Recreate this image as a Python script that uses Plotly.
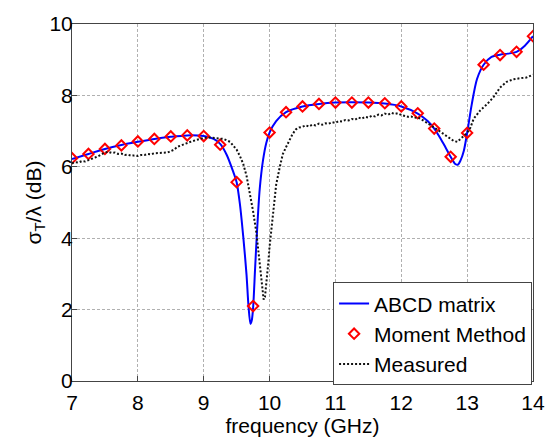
import plotly.graph_objects as go

# ABCD matrix (blue solid curve)
abcd_f = [7.0, 7.25, 7.5, 7.75, 8.0, 8.25, 8.5, 8.75, 9.0, 9.15, 9.25, 9.35, 9.45, 9.5,
          9.55, 9.6, 9.65, 9.68, 9.71, 9.73, 9.75, 9.78, 9.81, 9.85, 9.9, 9.95, 10.0,
          10.1, 10.25, 10.5, 10.75, 11.0, 11.25, 11.5, 11.75, 12.0, 12.25, 12.4, 12.5,
          12.6, 12.67, 12.75, 12.82, 12.86, 12.9, 12.95, 13.0, 13.07, 13.15, 13.25,
          13.37, 13.5, 13.62, 13.75, 13.88, 14.0]
abcd_v = [6.22, 6.36, 6.50, 6.61, 6.70, 6.78, 6.84, 6.88, 6.86, 6.78, 6.64, 6.33, 5.85, 5.57,
          4.95, 4.05, 2.98, 2.10, 1.60, 1.70, 2.05, 3.14, 4.21, 5.37, 6.18, 6.67, 6.96,
          7.28, 7.53, 7.69, 7.76, 7.80, 7.81, 7.80, 7.77, 7.69, 7.49, 7.28, 7.07,
          6.78, 6.55, 6.28, 6.08, 6.06, 6.18, 6.45, 6.95, 7.75, 8.46, 8.86,
          9.08, 9.14, 9.17, 9.22, 9.40, 9.66]

# Moment Method (red diamonds)
mm_f = [7.0, 7.25, 7.5, 7.75, 8.0, 8.25, 8.5, 8.75, 9.0, 9.25, 9.5, 9.75, 10.0, 10.25,
        10.5, 10.75, 11.0, 11.25, 11.5, 11.75, 12.0, 12.25, 12.5, 12.75, 13.0, 13.25,
        13.5, 13.75, 14.0]
mm_v = [6.24, 6.36, 6.50, 6.60, 6.71, 6.78, 6.85, 6.88, 6.86, 6.62, 5.57, 2.10, 6.96, 7.53,
        7.69, 7.76, 7.80, 7.80, 7.80, 7.78, 7.69, 7.50, 7.07, 6.28, 6.95, 8.86,
        9.13, 9.22, 9.66]

# Measured (black dotted curve)
meas_f = [7.0, 7.05, 7.1, 7.15, 7.2, 7.25, 7.3, 7.35, 7.4, 7.45, 7.5, 7.55, 7.6, 7.65, 7.7,
          7.75, 7.8, 7.85, 7.9, 7.95, 8.0, 8.05, 8.1, 8.15, 8.2, 8.25, 8.3, 8.35, 8.4,
          8.45, 8.5, 8.55, 8.6, 8.7, 8.8, 8.9, 9.0, 9.1, 9.2, 9.3, 9.4, 9.5, 9.55, 9.6,
          9.65, 9.7, 9.75, 9.8, 9.85, 9.88, 9.91, 9.93, 9.95, 9.98, 10.0, 10.03, 10.06,
          10.1, 10.15, 10.2, 10.25, 10.3, 10.35, 10.4, 10.45, 10.5, 10.55, 10.6, 10.65,
          10.7, 10.75, 10.8, 10.85, 10.9, 10.95, 11.0, 11.05, 11.1, 11.15, 11.2, 11.25,
          11.3, 11.35, 11.4, 11.45, 11.5, 11.55, 11.6, 11.65, 11.7, 11.75, 11.8, 11.85,
          11.9, 11.95, 12.0, 12.05, 12.1, 12.15, 12.2, 12.25, 12.3, 12.4, 12.5, 12.6,
          12.7, 12.8, 12.85, 12.9, 13.0, 13.05, 13.1, 13.2, 13.3, 13.4, 13.5, 13.6,
          13.7, 13.8, 13.9, 14.0]
meas_v = [6.10, 6.13, 6.12, 6.16, 6.15, 6.18, 6.21, 6.26, 6.30, 6.35, 6.40, 6.42, 6.39, 6.40, 6.36,
          6.37, 6.33, 6.34, 6.31, 6.32, 6.30, 6.33, 6.33, 6.36, 6.35, 6.38, 6.39, 6.38, 6.41,
          6.40, 6.44, 6.48, 6.56, 6.64, 6.70, 6.76, 6.81, 6.82, 6.80, 6.78, 6.70, 6.48, 6.30, 6.08,
          5.75, 5.30, 4.75, 4.15, 3.25, 2.65, 2.28, 2.35, 2.69, 3.30, 3.76, 4.35, 4.93,
          5.50, 5.95, 6.35, 6.55, 6.75, 6.92, 7.05, 7.10, 7.12, 7.16, 7.13, 7.18,
          7.16, 7.21, 7.18, 7.22, 7.21, 7.25, 7.23, 7.28, 7.27, 7.31, 7.30, 7.34,
          7.32, 7.38, 7.35, 7.40, 7.38, 7.43, 7.41, 7.46, 7.44, 7.49, 7.46, 7.51,
          7.48, 7.50, 7.45, 7.43, 7.40, 7.41, 7.37, 7.39, 7.34, 7.22, 7.10, 6.97,
          6.86, 6.72, 6.70, 6.78, 6.95, 7.10, 7.35, 7.58, 7.75, 7.95, 8.22, 8.38,
          8.45, 8.48, 8.50, 8.58]

FONT = "Liberation Sans, Arial, sans-serif"
AX = "#444444"

fig = go.Figure()
fig.add_trace(go.Scatter(x=abcd_f, y=abcd_v, mode="lines", name="ABCD matrix",
                         line=dict(color="#0000ff", width=2, shape="spline", smoothing=0.8)))
fig.add_trace(go.Scatter(x=mm_f, y=mm_v, mode="markers", name="Moment Method",
                         marker=dict(symbol="diamond-open", size=8, color="#ff0000",
                                     line=dict(color="#ff0000", width=2))))
fig.add_trace(go.Scatter(x=meas_f, y=meas_v, mode="lines", name="Measured",
                         line=dict(color="#111111", width=2, dash="2px,2px")))

axis_common = dict(showline=True, mirror=True, linecolor=AX, linewidth=1,
                   showgrid=True, gridcolor="#b0b0b0", gridwidth=1, griddash="3px,2px",
                   ticks="inside", ticklen=5, tickcolor=AX, zeroline=False,
                   tickfont=dict(family=FONT, size=21, color="#000000"))

fig.update_layout(
    width=557, height=441,
    margin=dict(l=72, r=15, t=14, b=54),
    paper_bgcolor="white", plot_bgcolor="white",
    font=dict(family=FONT, size=21, color="#000000"),
    xaxis=dict(range=[7, 14], dtick=1, tick0=7, ticklabelstandoff=3,
               title=dict(text="frequency (GHz)", font=dict(family=FONT, size=21), standoff=0),
               **axis_common),
    yaxis=dict(range=[0, 10], dtick=2, tick0=0, ticklabelstandoff=-6,
               title=dict(text="σ<sub>T</sub>/λ (dB)", font=dict(family=FONT, size=21), standoff=2),
               **axis_common),
    legend=dict(x=0.998, xanchor="right", y=-0.012, yanchor="bottom",
                bgcolor="white", bordercolor=AX, borderwidth=1,
                font=dict(family=FONT, size=21), tracegroupgap=0),
    showlegend=True,
)

fig.write_html("out.html")
